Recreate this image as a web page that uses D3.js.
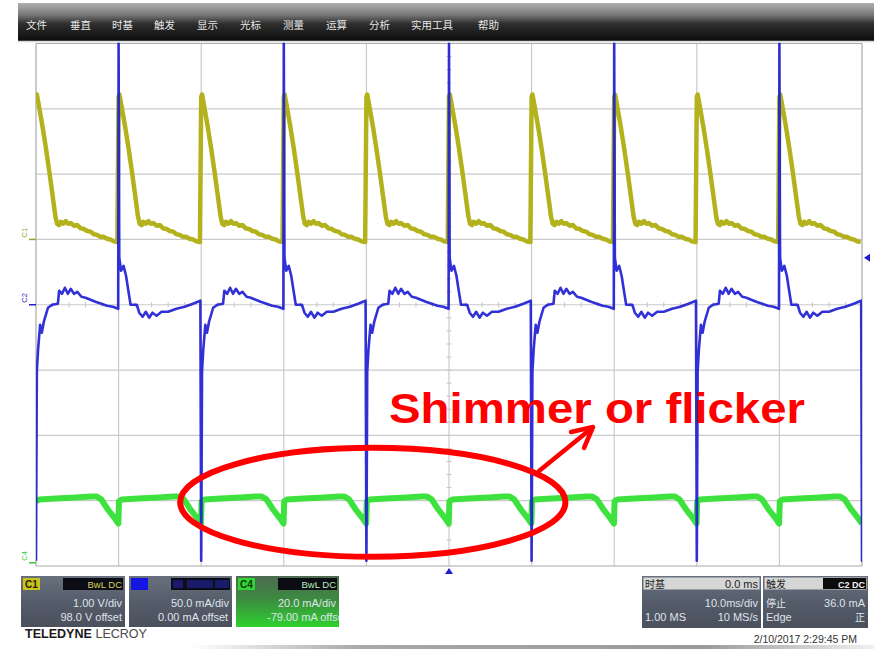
<!DOCTYPE html>
<html>
<head>
<meta charset="utf-8">
<script src="https://cdn.jsdelivr.net/npm/d3@7"></script>
<style>
  html, body { margin: 0; padding: 0; background: #fff; }
  svg { display: block; }
</style>
</head>
<body>
<svg id="scope" width="874" height="649"></svg>
<script>
// ---- Acquisition settings -------------------------------------------------
const timePerDiv = 10;          // ms/div
const hDivs = 10;
const vDivs = 8;
const c1Setup = { vdiv: 1.00, offset: 98.0 };   // V
const c2Setup = { vdiv: 50.0, offset: 0.0 };    // mA
const c4Setup = { vdiv: 20.0, offset: -79.0 };  // mA
const c1MarkerLevel = -97.0;    // V
const triggerLevel = 36.0;      // mA on C2
const triggerTime = 50;         // ms (centre of screen)

// ---- C1: one 10 ms cycle (time in cycle, ms / value, V) -------------------
const c1CycleTime  = [0.00, 0.10, 0.35, 0.80, 1.20, 1.60, 2.00, 2.35, 2.55, 2.80, 3.00, 3.30, 3.60, 3.90,
                      4.20, 4.60, 5.00, 5.40, 5.80, 6.20, 6.60, 7.00, 7.40, 7.80, 8.20, 8.60, 9.00, 9.40, 9.85];
const c1CycleVolts = [-94.82, -94.78, -94.95, -95.28, -95.60, -95.95, -96.32, -96.65, -96.76, -96.78, -96.73,
                      -96.76, -96.72, -96.76, -96.75, -96.79, -96.78, -96.83, -96.84, -96.87, -96.88, -96.92,
                      -96.93, -96.96, -96.96, -96.99, -97.00, -97.03, -97.04];
const c1CycleStarts = [0, 10, 20, 30, 40, 50, 60, 70, 80, 90];

// ---- C2: one 20 ms cycle starting at the negative edge (ms / mA) -----------
const c2CycleTime    = [0.00, 0.10, 0.25, 0.50, 0.70, 0.95, 1.45, 1.95, 2.65, 2.80, 3.15, 3.50, 3.85, 4.20,
                        4.60, 5.00, 5.50, 6.00, 6.60, 7.20, 7.90, 8.60, 9.30, 9.95, 10.00, 10.08, 10.30,
                        10.60, 10.90, 11.20, 11.45, 12.20, 12.50, 12.90, 13.30, 13.70, 14.10, 14.60, 15.20,
                        16.00, 17.00, 18.00, 19.00, 19.90];
const c2CycleCurrent = [-196, -51.2, -34.4, -15.3, -21.4, -13.0, -2.3, 0.0, 0.8, 10.7, 8.4, 13.0, 8.4, 12.2,
                        8.4, 9.9, 6.1, 5.4, 3.8, 2.3, 0.8, -0.8, -1.5, -3.1, 200, 36.0, 26.0,
                        29.8, 22.2, 9.9, 0.0, 0.0, -6.1, -9.2, -5.4, -9.9, -6.1, -8.4, -5.4,
                        -5.4, -3.1, -1.5, 0.8, 3.1];
const c2CycleStarts = [0, 20, 40, 60, 80, 100];

// ---- C4: one 10 ms cycle (ms / mA) ----------------------------------------
const c4CycleTime    = [0.05, 0.40, 2.40, 4.80, 6.70, 7.30, 7.90, 8.70, 9.45, 9.97];
const c4CycleCurrent = [18.8, 19.4, 19.7, 20.0, 20.3, 20.3, 19.4, 16.3, 13.9, 12.0];
const c4CycleStarts = [0, 10, 20, 30, 40, 50, 60, 70, 80, 90];

// ---- Highlighted region (ms, mA on C4) --------------------------------------
const highlightStart = 17.45, highlightEnd = 64.1, highlightLevel = 18.5;

// ---- Menu --------------------------------------------------------------------
const menuItems = ["文件", "垂直", "时基", "触发", "显示", "光标", "测量", "运算", "分析", "实用工具", "帮助"];
const menuX     = [26, 70, 112, 154, 197, 240, 283, 326, 369, 411, 478];

// ---------------------------------------------------------------------------
const svg = d3.select("#scope");
const W = 874, H = 649;
const plot = { left: 36, right: 862, top: 43.5, bottom: 566 };

const x = d3.scaleLinear().domain([0, hDivs * timePerDiv]).range([plot.left, plot.right]);
const yDiv = d3.scaleLinear().domain([-vDivs / 2, vDivs / 2]).range([plot.bottom, plot.top]);
const chanScale = c => d3.scaleLinear()
  .domain([-vDivs / 2 * c.vdiv - c.offset, vDivs / 2 * c.vdiv - c.offset])
  .range([plot.bottom, plot.top]);
const y1 = chanScale(c1Setup), y2 = chanScale(c2Setup), y4 = chanScale(c4Setup);

const defs = svg.append("defs");
const barGrad = defs.append("linearGradient").attr("id", "menuGrad").attr("x1", 0).attr("y1", 0).attr("x2", 0).attr("y2", 1);
[[0, "#b0b0b0"], [0.3, "#7a7a7a"], [0.55, "#2e2e2e"], [1, "#0c0c0c"]]
  .forEach(([o, c]) => barGrad.append("stop").attr("offset", o).attr("stop-color", c));
const slateGrad = defs.append("linearGradient").attr("id", "slateGrad").attr("x1", 0).attr("y1", 0).attr("x2", 0).attr("y2", 1);
[[0, "#69707e"], [0.5, "#555c6a"], [1, "#4a505c"]]
  .forEach(([o, c]) => slateGrad.append("stop").attr("offset", o).attr("stop-color", c));
const greenGrad = defs.append("linearGradient").attr("id", "greenGrad").attr("x1", 0).attr("y1", 0).attr("x2", 0).attr("y2", 1);
[[0, "#4e6a52"], [0.45, "#3c8a40"], [1, "#2ed22e"]]
  .forEach(([o, c]) => greenGrad.append("stop").attr("offset", o).attr("stop-color", c));
const stripGrad = defs.append("linearGradient").attr("id", "stripGrad");
[[0, "#ffffff"], [0.25, "#a8a8a8"], [0.75, "#9a9a9a"], [1, "#f0f0f0"]]
  .forEach(([o, c]) => stripGrad.append("stop").attr("offset", o).attr("stop-color", c));
defs.append("clipPath").attr("id", "plotClip").append("rect")
  .attr("x", plot.left).attr("y", plot.top - 1).attr("width", plot.right - plot.left).attr("height", plot.bottom - plot.top + 2);

svg.append("rect").attr("width", W).attr("height", H).attr("fill", "#fff");

// ---- Menu bar --------------------------------------------------------------
svg.append("rect").attr("x", 18).attr("y", 3).attr("width", W - 18).attr("height", 38).attr("fill", "url(#menuGrad)");
svg.append("g").selectAll("text").data(menuItems).join("text")
  .attr("x", (d, i) => menuX[i]).attr("y", 29)
  .attr("font-family", "Noto Sans CJK SC").attr("font-size", 10.5)
  .attr("fill", "#e6e6e6").text(d => d);
svg.append("line").attr("x1", 18).attr("x2", W).attr("y1", 41.5).attr("y2", 41.5).attr("stroke", "#d8d8d8").attr("stroke-width", 1.5);

// ---- Graticule ---------------------------------------------------------------
const grid = svg.append("g");
grid.selectAll(".vl").data(d3.range(0, hDivs + 1)).join("line")
  .attr("x1", d => x(d * timePerDiv)).attr("x2", d => x(d * timePerDiv))
  .attr("y1", plot.top).attr("y2", plot.bottom)
  .attr("stroke", (d) => (d === 0 || d === hDivs) ? "#a9a9a9" : "#cacaca").attr("stroke-width", 1.2);
grid.selectAll(".hl").data(d3.range(-vDivs / 2, vDivs / 2 + 1)).join("line")
  .attr("x1", plot.left).attr("x2", plot.right)
  .attr("y1", d => yDiv(d)).attr("y2", d => yDiv(d))
  .attr("stroke", d => Math.abs(d) === vDivs / 2 ? "#a9a9a9" : "#cacaca").attr("stroke-width", 1.2);
// minor ticks on the centre axes
grid.selectAll(".mt").data(d3.range(0, hDivs * timePerDiv, timePerDiv / 5)).join("line")
  .attr("x1", d => x(d)).attr("x2", d => x(d))
  .attr("y1", yDiv(0) - 2.5).attr("y2", yDiv(0) + 2.5).attr("stroke", "#c4c4c4");
grid.selectAll(".mv").data(d3.range(-vDivs / 2, vDivs / 2, 0.2)).join("line")
  .attr("x1", x(triggerTime) - 2.5).attr("x2", x(triggerTime) + 2.5)
  .attr("y1", d => yDiv(d)).attr("y2", d => yDiv(d)).attr("stroke", "#c4c4c4");

// ---- Traces --------------------------------------------------------------------
function buildTrace(starts, times, values) {
  const pts = [];
  starts.forEach(s => times.forEach((t, i) => pts.push({ t: s + t, v: values[i] })));
  return pts;
}
const traces = svg.append("g").attr("clip-path", "url(#plotClip)");
const c1Line = d3.line().x(d => x(d.t)).y(d => y1(d.v));
const c2Line = d3.line().x(d => x(d.t)).y(d => y2(d.v));
const c4Line = d3.line().x(d => x(d.t)).y(d => y4(d.v));

traces.append("path").datum(buildTrace(c1CycleStarts, c1CycleTime, c1CycleVolts))
  .attr("d", c1Line).attr("fill", "none").attr("stroke", "#b3b21c")
  .attr("stroke-width", 4.5).attr("stroke-linejoin", "round");
traces.append("path").datum(buildTrace(c4CycleStarts, c4CycleTime, c4CycleCurrent))
  .attr("d", c4Line).attr("fill", "none").attr("stroke", "#3ee23e")
  .attr("stroke-width", 6).attr("stroke-linejoin", "round");
traces.append("path").datum(buildTrace(c2CycleStarts, c2CycleTime, c2CycleCurrent))
  .attr("d", c2Line).attr("fill", "none").attr("stroke", "#2020d4")
  .attr("stroke-width", 2.6).attr("stroke-linejoin", "round").attr("stroke-opacity", 0.92);

// ---- Channel ground markers ---------------------------------------------------
const markers = [
  { label: "C1", y: y1(c1MarkerLevel), color: "#9e9e28" },
  { label: "C2", y: y2(0), color: "#2020c8" },
  { label: "C4", y: y4(0), color: "#36c836" }
];
const mk = svg.append("g");
mk.selectAll("line").data(markers).join("line")
  .attr("x1", 29).attr("x2", plot.left).attr("y1", d => d.y).attr("y2", d => d.y)
  .attr("stroke", d => d.color).attr("stroke-width", 1.5);
mk.selectAll("text").data(markers).join("text")
  .attr("transform", d => `translate(27,${d.y - 2}) rotate(-90)`)
  .attr("font-family", "Liberation Sans").attr("font-size", 7.5)
  .attr("fill", d => d.color).text(d => d.label);

// trigger level and trigger time markers
svg.append("path")
  .attr("d", `M${plot.right + 2},${y2(triggerLevel)} l6,-4 l0,8 z`).attr("fill", "#1e1ed0");
svg.append("path")
  .attr("d", `M${x(triggerTime)},${plot.bottom + 2} l-4,6 l8,0 z`).attr("fill", "#1e1ed0");

// ---- Channel readouts ----------------------------------------------------------
const chPanels = [
  { x: 21, w: 104, badge: "C1", badgeFill: "#c9c31a", badgeText: "#202000", head: "BwL DC", headColor: "#d8d25a",
    row2: "1.00 V/div", row3: "98.0 V offset", fill: "url(#slateGrad)", row3Left: null },
  { x: 129, w: 103, badge: "C2", badgeFill: "#1515e2", badgeText: "#1515e2", head: "", headColor: "#2a2ab0",
    row2: "50.0 mA/div", row3: "0.00 mA offset", fill: "url(#slateGrad)", row3Left: 158 },
  { x: 236, w: 103, badge: "C4", badgeFill: "#33d433", badgeText: "#0a3a0a", head: "BwL DC", headColor: "#b8f0b8",
    row2: "20.0 mA/div", row3: "-79.00 mA offset", fill: "url(#greenGrad)", row3Left: 267 }
];
const pTop = 576, pH = 51;
chPanels.forEach((p, i) => {
  const g = svg.append("g");
  defs.append("clipPath").attr("id", "pc" + i).append("rect").attr("x", p.x).attr("y", pTop).attr("width", p.w).attr("height", pH);
  g.attr("clip-path", `url(#pc${i})`);
  g.append("rect").attr("x", p.x).attr("y", pTop).attr("width", p.w).attr("height", pH).attr("fill", p.fill);
  g.append("rect").attr("x", p.x + 2).attr("y", pTop + 2).attr("width", 17).attr("height", 12).attr("fill", p.badgeFill);
  g.append("text").attr("x", p.x + 4).attr("y", pTop + 12).attr("font-family", "Liberation Sans")
    .attr("font-size", 10).attr("font-weight", "bold").attr("fill", p.badgeText).text(p.badge);
  g.append("rect").attr("x", p.x + 42).attr("y", pTop + 2).attr("width", p.w - 44).attr("height", 12).attr("fill", "#0c0c14");
  if (p.head) {
    g.append("text").attr("x", p.x + p.w - 3).attr("y", pTop + 12).attr("text-anchor", "end")
      .attr("font-family", "Liberation Sans").attr("font-size", 9.5).attr("fill", p.headColor).text(p.head);
  } else {
    [[p.x + 44, 10], [p.x + 58, 26], [p.x + 86, 14]].forEach(([bx, bw]) =>
      g.append("rect").attr("x", bx).attr("y", pTop + 4).attr("width", bw).attr("height", 8).attr("fill", "#1a1a6a"));
  }
  g.append("text").attr("x", p.x + p.w - 3).attr("y", pTop + 31).attr("text-anchor", "end")
    .attr("font-family", "Liberation Sans").attr("font-size", 11).attr("fill", "#dfe3ea").text(p.row2);
  const r3 = g.append("text").attr("y", pTop + 45).attr("font-family", "Liberation Sans")
    .attr("font-size", 11).attr("fill", "#dfe3ea").text(p.row3);
  if (p.row3Left === null) r3.attr("x", p.x + p.w - 3).attr("text-anchor", "end");
  else r3.attr("x", p.row3Left);
});

// timebase and trigger readouts
const rightPanels = [
  { x: 642, w: 119, headL: "时基", headR: "0.0 ms", headRBox: false,
    r2L: "", r2R: "10.0ms/div", r3L: "1.00 MS", r3R: "10 MS/s" },
  { x: 763, w: 105, headL: "触发", headR: "C2 DC", headRBox: true,
    r2L: "停止", r2R: triggerLevel.toFixed(1) + " mA", r3L: "Edge", r3R: "正" }
];
rightPanels.forEach(p => {
  const g = svg.append("g");
  g.append("rect").attr("x", p.x).attr("y", pTop).attr("width", p.w).attr("height", pH + 1).attr("fill", "url(#slateGrad)");
  g.append("rect").attr("x", p.x + 1.5).attr("y", pTop + 1.5).attr("width", p.w - 3).attr("height", 12).attr("fill", "#d6d6d6");
  g.append("text").attr("x", p.x + 3).attr("y", pTop + 12).attr("font-family", "Noto Sans CJK SC")
    .attr("font-size", 10).attr("fill", "#222").text(p.headL);
  if (p.headRBox) {
    g.append("rect").attr("x", p.x + 60).attr("y", pTop + 2).attr("width", p.w - 62).attr("height", 11).attr("fill", "#0c0c0c");
    g.append("text").attr("x", p.x + p.w - 3).attr("y", pTop + 11.5).attr("text-anchor", "end")
      .attr("font-family", "Liberation Sans").attr("font-size", 9).attr("font-weight", "bold").attr("fill", "#f2f2f2").text(p.headR);
  } else {
    g.append("text").attr("x", p.x + p.w - 3).attr("y", pTop + 12).attr("text-anchor", "end")
      .attr("font-family", "Liberation Sans").attr("font-size", 11).attr("fill", "#222").text(p.headR);
  }
  const cjk = s => /[\u4e00-\u9fff]/.test(s);
  [[p.r2L, p.r2R, pTop + 30.5], [p.r3L, p.r3R, pTop + 45]].forEach(([l, r, yy]) => {
    if (l) g.append("text").attr("x", p.x + 3).attr("y", yy)
      .attr("font-family", cjk(l) ? "Noto Sans CJK SC" : "Liberation Sans").attr("font-size", cjk(l) ? 10 : 11)
      .attr("fill", "#dfe3ea").text(l);
    if (r) g.append("text").attr("x", p.x + p.w - 3).attr("y", yy).attr("text-anchor", "end")
      .attr("font-family", cjk(r) ? "Noto Sans CJK SC" : "Liberation Sans").attr("font-size", cjk(r) ? 10 : 11)
      .attr("fill", "#dfe3ea").text(r);
  });
});

// brand, timestamp and bottom strip
const brand = svg.append("text").attr("x", 25).attr("y", 638).attr("font-family", "Liberation Sans Narrow, Liberation Sans")
  .attr("font-size", 13).attr("textLength", 122).attr("lengthAdjust", "spacingAndGlyphs");
brand.append("tspan").attr("font-weight", "bold").attr("fill", "#1a1a1a").text("TELEDYNE ");
brand.append("tspan").attr("fill", "#4a4a4a").text("LECROY");
svg.append("text").attr("x", 857).attr("y", 643).attr("text-anchor", "end")
  .attr("font-family", "Liberation Sans").attr("font-size", 10.5).attr("fill", "#333").text("2/10/2017 2:29:45 PM");
svg.append("rect").attr("x", 190).attr("y", 645).attr("width", W - 190).attr("height", 4).attr("fill", "url(#stripGrad)");

// ---- Annotation ------------------------------------------------------------------
const note = svg.append("g");
note.append("ellipse")
  .attr("cx", (x(highlightStart) + x(highlightEnd)) / 2).attr("cy", y4(highlightLevel))
  .attr("rx", (x(highlightEnd) - x(highlightStart)) / 2).attr("ry", 54.5)
  .attr("fill", "none").attr("stroke", "#ff0000").attr("stroke-width", 6);
note.append("line").attr("x1", 539).attr("y1", 471).attr("x2", 592).attr("y2", 428)
  .attr("stroke", "#ff0000").attr("stroke-width", 4.5).attr("stroke-linecap", "round");
note.append("polyline").attr("points", "571,432 593,427 584,448")
  .attr("fill", "none").attr("stroke", "#ff0000").attr("stroke-width", 4.5)
  .attr("stroke-linecap", "round").attr("stroke-linejoin", "round");
note.append("text").attr("x", 389).attr("y", 423)
  .attr("font-family", "Liberation Sans, Arial, sans-serif").attr("font-weight", "bold")
  .attr("font-size", 42).attr("fill", "#ff0000")
  .attr("textLength", 416).attr("lengthAdjust", "spacingAndGlyphs")
  .text("Shimmer or flicker");
</script>
</body>
</html>
